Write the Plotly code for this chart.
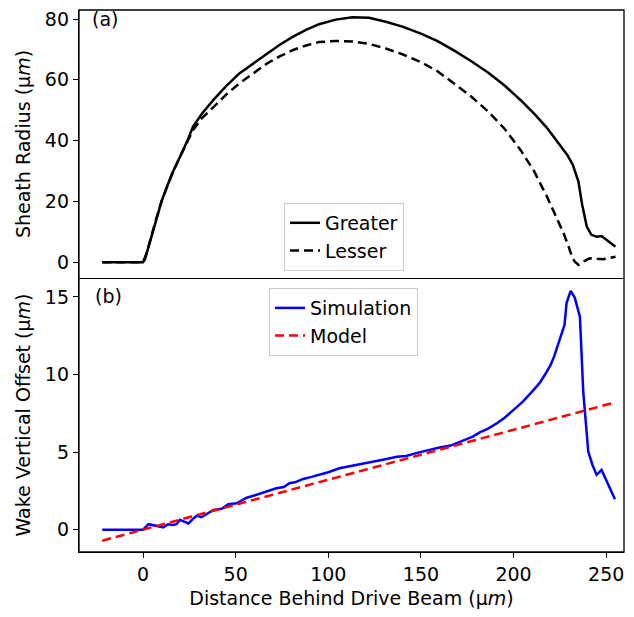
import plotly.graph_objects as go
from plotly.subplots import make_subplots

# (a) sheath radius, um
greater_x = [-22, -10, 0, 1, 2, 4, 7, 10, 13, 16, 20, 24, 27, 32, 38, 45, 52, 60, 67, 74,
             81, 88, 95, 104, 113, 122, 131, 140, 150, 159, 168, 177, 186, 195, 204, 212,
             218, 224, 229, 232, 235, 237, 239.5, 242, 245, 247.5, 251, 255]
greater_y = [0, 0, 0, 0.8, 3, 7.5, 14, 20, 25, 29.5, 34.7, 40, 44.6, 49, 53.4, 58, 62.1,
             65.5, 68.7, 71.6, 74.2, 76.4, 78.3, 79.8, 80.6, 80.4, 79.1, 77.5, 75.2, 72.7,
             69.6, 66.2, 62.5, 58.2, 53.2, 48.3, 44.2, 39.5, 35.3, 32, 26.5, 19, 11.7, 9,
             8.4, 8.6, 7, 5.1]

lesser_x = [-22, 0, 2, 4, 7, 10, 13, 16, 20, 24, 27, 32, 38, 45, 52, 60, 67, 74, 81, 88,
            95, 104, 113, 122, 131, 140, 150, 159, 168, 177, 186, 195, 204, 211, 218, 223,
            227, 229.5, 231.5, 233, 235, 238, 241, 245, 248.4, 255]
lesser_y = [0, 0, 3, 7.5, 14, 20, 25, 29.5, 34.7, 39.5, 43.5, 47.5, 51.2, 55.2, 58.8, 62.3,
            65.4, 67.8, 69.8, 71.3, 72.4, 72.8, 72.6, 71.8, 70.3, 68.4, 65.8, 62.8, 58.6,
            54.6, 49.7, 44, 36.7, 30, 21.6, 15, 9.5, 5.5, 1.8, 0.2, -0.9, 0.3, 1.3, 1.1,
            1.0, 1.8]

# (b) wake vertical offset, um
sim_x = [-22, -10, 0, 3, 5, 7.5, 11, 13.5, 16, 18, 20, 22.5, 24.5, 27, 29, 31.5, 34, 38,
         42.5, 46, 50.5, 53, 56, 60, 65, 68, 72, 76, 79, 82, 86.5, 91, 95.5, 100, 106,
         112, 119, 125, 131.5, 137, 142, 148, 155, 160, 166, 170, 173, 178, 182, 186,
         191, 195, 200, 205, 210, 214, 217, 220, 222, 224, 226, 227.5, 228.6, 230.8, 233,
         235.8, 237.6, 240.3, 242.5, 244.8, 247.5, 251, 254.7]
sim_y = [0, 0, 0, 0.35, 0.3, 0.2, 0.15, 0.35, 0.3, 0.35, 0.63, 0.5, 0.4, 0.7, 0.9, 0.8,
         1.0, 1.27, 1.35, 1.64, 1.7, 1.85, 2.06, 2.2, 2.4, 2.5, 2.67, 2.75, 2.99, 3.05,
         3.27, 3.4, 3.53, 3.7, 3.96, 4.1, 4.22, 4.4, 4.56, 4.7, 4.75, 4.95, 5.18, 5.3,
         5.42, 5.6, 5.78, 6.0, 6.28, 6.5, 6.86, 7.2, 7.72, 8.25, 8.9, 9.44, 10.0, 10.62,
         11.2, 11.9, 12.6, 13.2, 14.6, 15.39, 14.96, 13.73, 8.9, 5.03, 4.2, 3.53, 3.85,
         2.9, 1.96]

model_x = [-22, 255]
model_y = [-0.71, 8.21]

FONT = "DejaVu Sans"
dash = "9px,5px"

fig = make_subplots(rows=2, cols=1, shared_xaxes=True, vertical_spacing=0,
                    row_heights=[268, 274])

fig.add_trace(go.Scatter(x=greater_x, y=greater_y, mode="lines", name="Greater",
                         line=dict(color="black", width=2.5), legend="legend"), row=1, col=1)
fig.add_trace(go.Scatter(x=lesser_x, y=lesser_y, mode="lines", name="Lesser",
                         line=dict(color="black", width=2.5, dash=dash), legend="legend"), row=1, col=1)
fig.add_trace(go.Scatter(x=sim_x, y=sim_y, mode="lines", name="Simulation",
                         line=dict(color="blue", width=2.5), legend="legend2"), row=2, col=1)
fig.add_trace(go.Scatter(x=model_x, y=model_y, mode="lines", name="Model",
                         line=dict(color="red", width=2.5, dash=dash), legend="legend2"), row=2, col=1)

axis_style = dict(showline=True, linecolor="black", linewidth=1.3,
                  showgrid=False, zeroline=False, ticks="outside", ticklen=5,
                  tickwidth=1.3, tickcolor="black", automargin=False,
                  ticklabeloverflow="allow",
                  tickfont=dict(size=19, color="black"))

fig.update_xaxes(**axis_style, range=[-34.54, 259.6], tickvals=[0, 50, 100, 150, 200, 250])
fig.update_xaxes(showticklabels=False, ticks="", row=1, col=1)
fig.update_xaxes(title=dict(text="Distance Behind Drive Beam (μ<i>m</i>)", standoff=8,
                            font=dict(size=19, color="black")), row=2, col=1)
fig.update_yaxes(**axis_style)
fig.update_yaxes(range=[-5.2, 82.96], tickvals=[0, 20, 40, 60, 80],
                 title=dict(text="Sheath Radius (μ<i>m</i>)", standoff=9,
                            font=dict(size=19, color="black")), row=1, col=1)
fig.update_yaxes(range=[-1.44, 16.22], tickvals=[0, 5, 10, 15],
                 title=dict(text="Wake Vertical Offset (μ<i>m</i>)", standoff=9,
                            font=dict(size=19, color="black")), row=2, col=1)

# outer box drawn in paper coords so it is not clipped by the plot area
fig.add_shape(type="rect", xref="paper", yref="paper", x0=0, x1=1, y0=0, y1=1,
              line=dict(color="black", width=1.3))

legend_style = dict(bgcolor="rgba(255,255,255,0.8)", bordercolor="#cccccc", borderwidth=1,
                    font=dict(size=19, color="black"), xanchor="left", yanchor="top")
fig.update_layout(
    # sized to fit inside the page's 8px body margin so nothing scrolls or clips
    width=618, height=601,
    margin=dict(l=71, r=2, t=2, b=57),
    paper_bgcolor="white", plot_bgcolor="white",
    font=dict(family=FONT, size=19, color="black"),
    legend=dict(**legend_style, x=0.3762, y=0.644),
    legend2=dict(**legend_style, x=0.3486, y=0.487),
    annotations=[
        dict(text="(a)", x=0.02, y=0.9834, xref="paper", yref="paper", showarrow=False,
             xanchor="left", yanchor="middle", font=dict(size=19)),
        dict(text="(b)", x=0.0257, y=0.4723, xref="paper", yref="paper", showarrow=False,
             xanchor="left", yanchor="middle", font=dict(size=19)),
    ],
)

fig.write_html("out.html")
